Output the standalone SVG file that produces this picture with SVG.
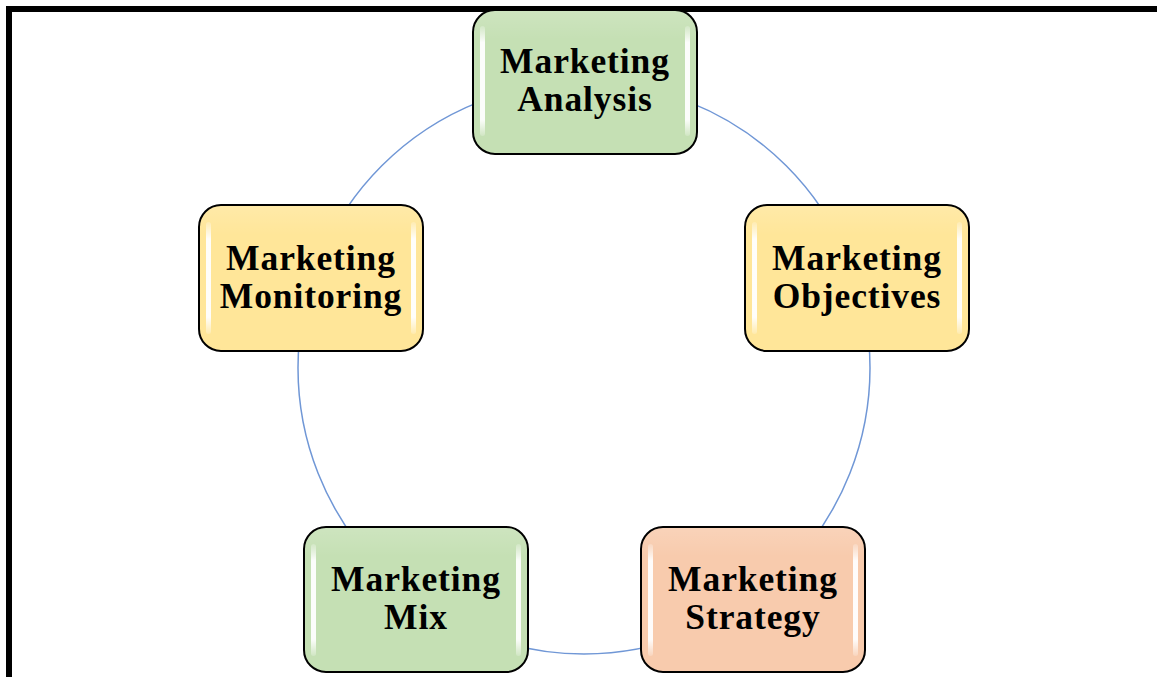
<svg xmlns="http://www.w3.org/2000/svg" width="1157" height="677" viewBox="0 0 1157 677">
<style>
.box{stroke:#000;stroke-width:2}
.green{fill:#c5e0b4}
.yellow{fill:#ffe699}
.peach{fill:#f8cbad}
.lbl{font-family:"Liberation Serif","Times New Roman",serif;font-weight:bold;font-size:35.5px;letter-spacing:0.9px;fill:#000;text-anchor:middle}
.hl{fill:url(#hlg)}
</style>
<defs>
<linearGradient id="hlg" x1="0" y1="0" x2="0" y2="1">
<stop offset="0" stop-color="#fff" stop-opacity="0.2"/>
<stop offset="0.15" stop-color="#fff" stop-opacity="0.95"/>
<stop offset="0.85" stop-color="#fff" stop-opacity="0.95"/>
<stop offset="1" stop-color="#fff" stop-opacity="0.2"/>
</linearGradient>
<linearGradient id="sheen" x1="0" y1="0" x2="0" y2="1">
<stop offset="0" stop-color="#fff" stop-opacity="0.15"/>
<stop offset="0.2" stop-color="#fff" stop-opacity="0"/>
</linearGradient>
</defs>
<rect x="0" y="0" width="1157" height="677" fill="#fff"/>
<rect x="9" y="9" width="1200" height="720" fill="none" stroke="#000" stroke-width="6"/>
<g id="connectors">
<circle cx="584" cy="368" r="286" fill="none" stroke="#7097d6" stroke-width="1.5"/>
</g>
<g id="analysis">
<rect class="box green" x="473" y="10" width="224" height="144" rx="22"/>
<rect x="474" y="11" width="222" height="142" rx="21" fill="url(#sheen)"/>
<rect class="hl" x="480" y="26" width="5" height="110" rx="2.5"/>
<rect class="hl" x="685" y="26" width="5" height="110" rx="2.5"/>
<text class="lbl" x="585" y="73">Marketing</text>
<text class="lbl" x="585" y="111">Analysis</text>
</g>
<g id="objectives">
<rect class="box yellow" x="745" y="205" width="224" height="146" rx="22"/>
<rect x="746" y="206" width="222" height="144" rx="21" fill="url(#sheen)"/>
<rect class="hl" x="752" y="222" width="5" height="112" rx="2.5"/>
<rect class="hl" x="957" y="222" width="5" height="112" rx="2.5"/>
<text class="lbl" x="857" y="270">Marketing</text>
<text class="lbl" x="857" y="308">Objectives</text>
</g>
<g id="strategy">
<rect class="box peach" x="641" y="527" width="224" height="145" rx="22"/>
<rect x="642" y="528" width="222" height="143" rx="21" fill="url(#sheen)"/>
<rect class="hl" x="648" y="544" width="5" height="112" rx="2.5"/>
<rect class="hl" x="853" y="544" width="5" height="112" rx="2.5"/>
<text class="lbl" x="753" y="591">Marketing</text>
<text class="lbl" x="753" y="629">Strategy</text>
</g>
<g id="mix">
<rect class="box green" x="304" y="527" width="224" height="145" rx="22"/>
<rect x="305" y="528" width="222" height="143" rx="21" fill="url(#sheen)"/>
<rect class="hl" x="311" y="544" width="5" height="112" rx="2.5"/>
<rect class="hl" x="516" y="544" width="5" height="112" rx="2.5"/>
<text class="lbl" x="416" y="591">Marketing</text>
<text class="lbl" x="416" y="629">Mix</text>
</g>
<g id="monitoring">
<rect class="box yellow" x="199" y="205" width="224" height="146" rx="22"/>
<rect x="200" y="206" width="222" height="144" rx="21" fill="url(#sheen)"/>
<rect class="hl" x="206" y="222" width="5" height="112" rx="2.5"/>
<rect class="hl" x="411" y="222" width="5" height="112" rx="2.5"/>
<text class="lbl" x="311" y="270">Marketing</text>
<text class="lbl" x="311" y="308">Monitoring</text>
</g>
</svg>
